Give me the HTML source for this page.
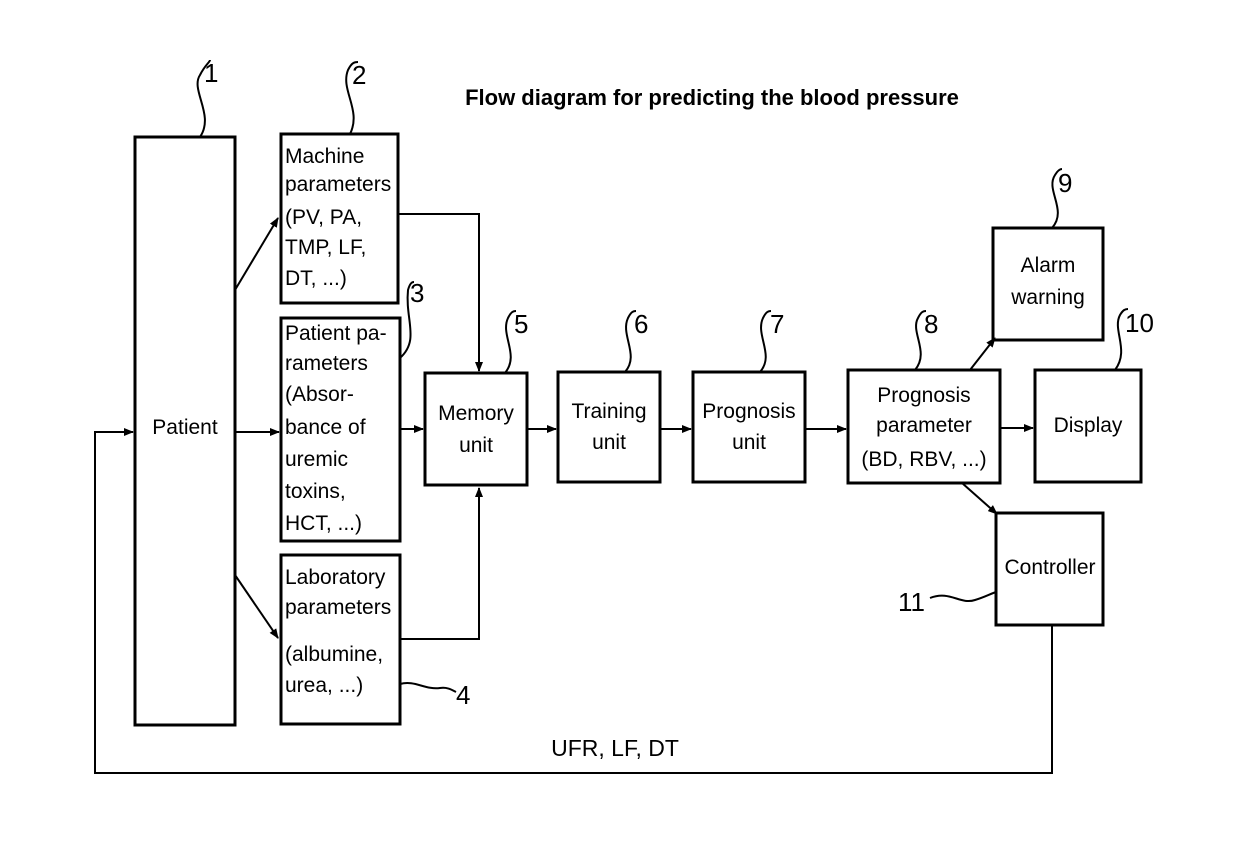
<!DOCTYPE html>
<html><head><meta charset="utf-8"><style>
html,body{margin:0;padding:0;background:#fff;}
svg{display:block;}
text{font-family:"Liberation Sans Narrow","Liberation Sans",sans-serif;font-size:21px;fill:#000;}
.n{font-family:"Liberation Sans",sans-serif;font-size:26px;}
</style></head><body>
<svg width="1240" height="856" viewBox="0 0 1240 856" xmlns="http://www.w3.org/2000/svg">
<defs><marker id="a" markerWidth="10" markerHeight="8" refX="9" refY="4" orient="auto" markerUnits="userSpaceOnUse"><path d="M0,0 L10,4 L0,8 Z" fill="#000"/></marker></defs>
<text x="712" y="105" text-anchor="middle" style="font-family:'Liberation Sans',sans-serif;font-weight:bold;font-size:22px">Flow diagram for predicting the blood pressure</text>
<g fill="none" stroke="#000" stroke-width="3">
<rect x="135" y="137" width="100" height="588"/>
<rect x="281" y="134" width="117" height="169"/>
<rect x="281" y="318" width="119" height="223"/>
<rect x="281" y="555" width="119" height="169"/>
<rect x="425" y="373" width="102" height="112"/>
<rect x="558" y="372" width="102" height="110"/>
<rect x="693" y="372" width="112" height="110"/>
<rect x="848" y="370" width="152" height="113"/>
<rect x="993" y="228" width="110" height="112"/>
<rect x="1035" y="370" width="106" height="112"/>
<rect x="996" y="513" width="107" height="112"/>
</g>
<g fill="none" stroke="#000" stroke-width="2">
<line x1="235" y1="290" x2="278" y2="218" marker-end="url(#a)"/>
<line x1="235" y1="432" x2="279" y2="432" marker-end="url(#a)"/>
<line x1="235" y1="575" x2="278" y2="638" marker-end="url(#a)"/>
<polyline points="398,214 479,214 479,371" marker-end="url(#a)"/>
<line x1="400" y1="429" x2="423" y2="429" marker-end="url(#a)"/>
<polyline points="400,639 479,639 479,488" marker-end="url(#a)"/>
<line x1="527" y1="429" x2="556" y2="429" marker-end="url(#a)"/>
<line x1="660" y1="429" x2="691" y2="429" marker-end="url(#a)"/>
<line x1="805" y1="429" x2="846" y2="429" marker-end="url(#a)"/>
<line x1="1000" y1="428" x2="1033" y2="428" marker-end="url(#a)"/>
<line x1="970" y1="370" x2="995" y2="338" marker-end="url(#a)"/>
<line x1="962" y1="483" x2="997" y2="514" marker-end="url(#a)"/>
<polyline points="1052,625 1052,773 95,773 95,432 133,432" marker-end="url(#a)"/>
<path d="M200,137 C215,115 190,90 200,75 C205,65 210,62 210,60"/>
<path d="M350,134 C362,110 340,90 348,70 C352,62 355,62 358,62"/>
<path d="M400,358 C420,340 405,320 408,290 C410,283 412,282 414,282"/>
<path d="M505,373 C520,355 500,335 508,318 C511,312 513,311 516,311"/>
<path d="M625,372 C640,355 620,335 628,318 C631,312 633,311 636,311"/>
<path d="M760,372 C775,355 755,335 763,318 C766,312 768,311 771,311"/>
<path d="M915,370 C930,352 910,332 918,318 C921,312 923,311 926,311"/>
<path d="M1052,228 C1068,210 1045,190 1055,175 C1058,170 1060,169 1062,169"/>
<path d="M1115,370 C1130,350 1112,330 1120,315 C1123,310 1125,309 1128,309"/>
<path d="M930,598 C950,590 960,605 975,600 C985,597 990,594 996,592"/>
<path d="M400,684 C415,680 425,690 440,688 C448,687 452,690 456,692"/>
</g>
<text class="n" x="204" y="82">1</text>
<text class="n" x="352" y="84">2</text>
<text class="n" x="410" y="302">3</text>
<text class="n" x="456" y="704">4</text>
<text class="n" x="514" y="333">5</text>
<text class="n" x="634" y="333">6</text>
<text class="n" x="770" y="333">7</text>
<text class="n" x="924" y="333">8</text>
<text class="n" x="1058" y="192">9</text>
<text class="n" x="1125" y="332">10</text>
<text class="n" x="898" y="611">11</text>
<text x="185" y="434" text-anchor="middle">Patient</text>
<text x="285" y="163">Machine</text>
<text x="285" y="191">parameters</text>
<text x="285" y="224">(PV, PA,</text>
<text x="285" y="254">TMP, LF,</text>
<text x="285" y="285">DT, ...)</text>
<text x="285" y="340">Patient pa-</text>
<text x="285" y="370">rameters</text>
<text x="285" y="401">(Absor-</text>
<text x="285" y="434">bance of</text>
<text x="285" y="466">uremic</text>
<text x="285" y="498">toxins,</text>
<text x="285" y="530">HCT, ...)</text>
<text x="285" y="584">Laboratory</text>
<text x="285" y="614">parameters</text>
<text x="285" y="661">(albumine,</text>
<text x="285" y="692">urea, ...)</text>
<text x="476" y="420" text-anchor="middle">Memory</text>
<text x="476" y="452" text-anchor="middle">unit</text>
<text x="609" y="418" text-anchor="middle">Training</text>
<text x="609" y="449" text-anchor="middle">unit</text>
<text x="749" y="418" text-anchor="middle">Prognosis</text>
<text x="749" y="449" text-anchor="middle">unit</text>
<text x="924" y="402" text-anchor="middle">Prognosis</text>
<text x="924" y="432" text-anchor="middle">parameter</text>
<text x="924" y="466" text-anchor="middle">(BD, RBV, ...)</text>
<text x="1048" y="272" text-anchor="middle">Alarm</text>
<text x="1048" y="304" text-anchor="middle">warning</text>
<text x="1088" y="432" text-anchor="middle">Display</text>
<text x="1050" y="574" text-anchor="middle">Controller</text>
<text x="615" y="756" text-anchor="middle" style="font-size:23px">UFR, LF, DT</text>
</svg>
</body></html>
